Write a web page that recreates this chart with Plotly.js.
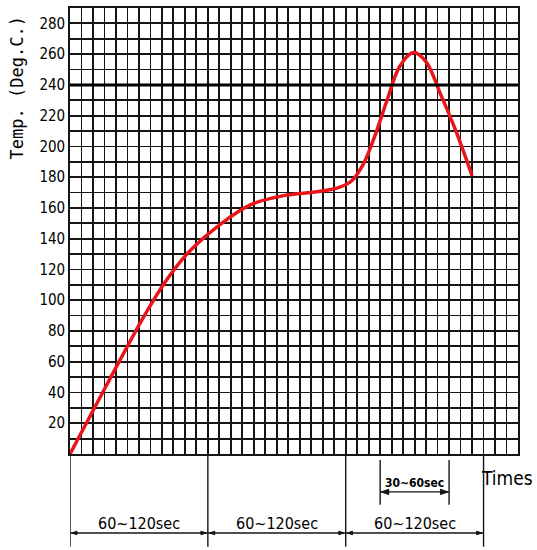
<!DOCTYPE html>
<html>
<head>
<meta charset="utf-8">
<script src="https://cdn.plot.ly/plotly-3.0.1.min.js"></script>
<style>html,body{margin:0;padding:0;background:#fff;}</style>
</head>
<body>
<div id="chart" style="width:537px;height:550px;"></div>
<script>
// Time in grid cells (one vertical grid step each), temperature in Deg.C
var timeCells = [0, 3.2, 6.4, 8.3, 10.3, 13.2, 15.7, 18.6, 21.5, 23.3, 24.5, 25.5, 26.5, 27.6, 28.7, 29.9, 31.0, 32.2, 33.6, 35.0];
var tempValues = [0, 45, 89, 112, 131, 150, 162, 168, 170.5, 173, 177.5, 188, 206, 230, 252, 261, 255, 235, 210, 181];
var yTickValues = [20, 40, 60, 80, 100, 120, 140, 160, 180, 200, 220, 240, 260, 280];
var yTickLabels = ["20", "40", "60", "80", "100", "120", "140", "160", "180", "200", "220", "240", "260", "280"];
var referenceTemp = 240;
var segmentBounds = [0, 12, 24, 36];
var segmentLabels = ["60~120sec", "60~120sec", "60~120sec"];
var holdBounds = [27, 33];
var holdLabel = "30~60sec";
var xAxisLabel = "Times";
var yAxisLabel = "Temp. (Deg.C.)";

var shapes = [];
var annotations = [];
var ink = "#151515";

// reference line at 240
shapes.push({type: "line", xref: "paper", yref: "y", x0: 0, x1: 1, y0: referenceTemp, y1: referenceTemp,
  line: {color: "#000", width: 3}});

// segment extension lines and dimension lines
var dimY = -0.177, extBottom = -0.208;
segmentBounds.forEach(function (b) {
  shapes.push({type: "line", xref: "x", yref: "paper", x0: b, x1: b, y0: 0, y1: extBottom,
    line: {color: ink, width: 1.4}});
});
for (var i = 0; i < segmentLabels.length; i++) {
  var a = segmentBounds[i], b = segmentBounds[i + 1];
  shapes.push({type: "line", xref: "x", yref: "paper", x0: a, x1: b, y0: dimY, y1: dimY,
    line: {color: ink, width: 1.4}});
  shapes.push({type: "path", xref: "x", yref: "paper", fillcolor: ink, line: {color: ink, width: 1},
    path: "M " + (a + 0.15) + "," + dimY + " L " + (a + 0.6) + "," + (dimY + 0.004) + " L " + (a + 0.6) + "," + (dimY - 0.004) + " Z"});
  shapes.push({type: "path", xref: "x", yref: "paper", fillcolor: ink, line: {color: ink, width: 1},
    path: "M " + (b - 0.15) + "," + dimY + " L " + (b - 0.6) + "," + (dimY + 0.004) + " L " + (b - 0.6) + "," + (dimY - 0.004) + " Z"});
  annotations.push({xref: "x", yref: "paper", x: (a + b) / 2, y: -0.155, text: segmentLabels[i],
    showarrow: false, xanchor: "center", yanchor: "middle",
    font: {family: "DejaVu Sans Condensed, Liberation Sans Narrow, DejaVu Sans", size: 16, color: "#000"}});
}

// hold bracket 30~60sec
var hY = -0.085, hTop = -0.0135, hBot = -0.114;
var h0 = holdBounds[0], h1 = holdBounds[1];
shapes.push({type: "line", xref: "x", yref: "paper", x0: h0, x1: h0, y0: hTop, y1: hBot, line: {color: ink, width: 1.4}});
shapes.push({type: "line", xref: "x", yref: "paper", x0: h1, x1: h1, y0: hTop, y1: hBot, line: {color: ink, width: 1.4}});
shapes.push({type: "line", xref: "x", yref: "paper", x0: h0, x1: h1, y0: hY, y1: hY, line: {color: ink, width: 1.4}});
shapes.push({type: "path", xref: "x", yref: "paper", fillcolor: ink, line: {color: ink, width: 1},
  path: "M " + (h0 + 0.1) + "," + hY + " L " + (h0 + 0.75) + "," + (hY + 0.006) + " L " + (h0 + 0.75) + "," + (hY - 0.006) + " Z"});
shapes.push({type: "path", xref: "x", yref: "paper", fillcolor: ink, line: {color: ink, width: 1},
  path: "M " + (h1 - 0.1) + "," + hY + " L " + (h1 - 0.75) + "," + (hY + 0.006) + " L " + (h1 - 0.75) + "," + (hY - 0.006) + " Z"});
annotations.push({xref: "x", yref: "paper", x: (h0 + h1) / 2, y: -0.064, text: holdLabel,
  showarrow: false, xanchor: "center", yanchor: "middle",
  font: {family: "DejaVu Sans Condensed, Liberation Sans Narrow, DejaVu Sans", size: 12, color: "#000", weight: 600}});

// axis labels
annotations.push({xref: "paper", yref: "paper", x: 1.038, y: -0.054, text: xAxisLabel, showarrow: false,
  xanchor: "right", yanchor: "middle",
  font: {family: "Liberation Sans Narrow, DejaVu Sans Condensed, Liberation Sans", size: 19, color: "#000"}});
annotations.push({xref: "paper", yref: "paper", x: -0.118, y: 0.82, text: yAxisLabel, showarrow: false,
  textangle: -90, xanchor: "center", yanchor: "middle",
  font: {family: "DejaVu Sans Mono, Liberation Mono", size: 17, color: "#000"}});

var trace = {
  x: timeCells, y: tempValues, type: "scatter", mode: "lines",
  line: {color: "#e8161b", width: 3.5, shape: "spline", smoothing: 1},
  cliponaxis: false, hoverinfo: "skip"
};

var layout = {
  width: 537, height: 550, autosize: false,
  margin: {l: 70, r: 19, t: 8, b: 96, pad: 0},
  paper_bgcolor: "#fff", plot_bgcolor: "#fff",
  showlegend: false,
  xaxis: {
    range: [0, 39], tickmode: "linear", tick0: 0, dtick: 1,
    showgrid: true, gridcolor: ink, gridwidth: 1.8,
    showticklabels: false, ticks: "", zeroline: false,
    showline: true, mirror: true, linecolor: ink, linewidth: 1.8,
    fixedrange: true
  },
  yaxis: {
    range: [0, 290], tickmode: "array", tickvals: yTickValues, ticktext: yTickLabels,
    showgrid: true, gridcolor: ink, gridwidth: 1.8,
    minor: {tickmode: "linear", tick0: 0, dtick: 10, showgrid: true, gridcolor: ink, gridwidth: 1.8, ticks: ""},
    ticks: "", zeroline: false,
    showline: true, mirror: true, linecolor: ink, linewidth: 1.8,
    tickfont: {family: "DejaVu Sans Condensed, Liberation Sans Narrow, DejaVu Sans", size: 15, color: "#000"},
    fixedrange: true
  },
  shapes: shapes,
  annotations: annotations
};

Plotly.newPlot("chart", [trace], layout, {displayModeBar: false, staticPlot: true});
</script>
</body>
</html>
